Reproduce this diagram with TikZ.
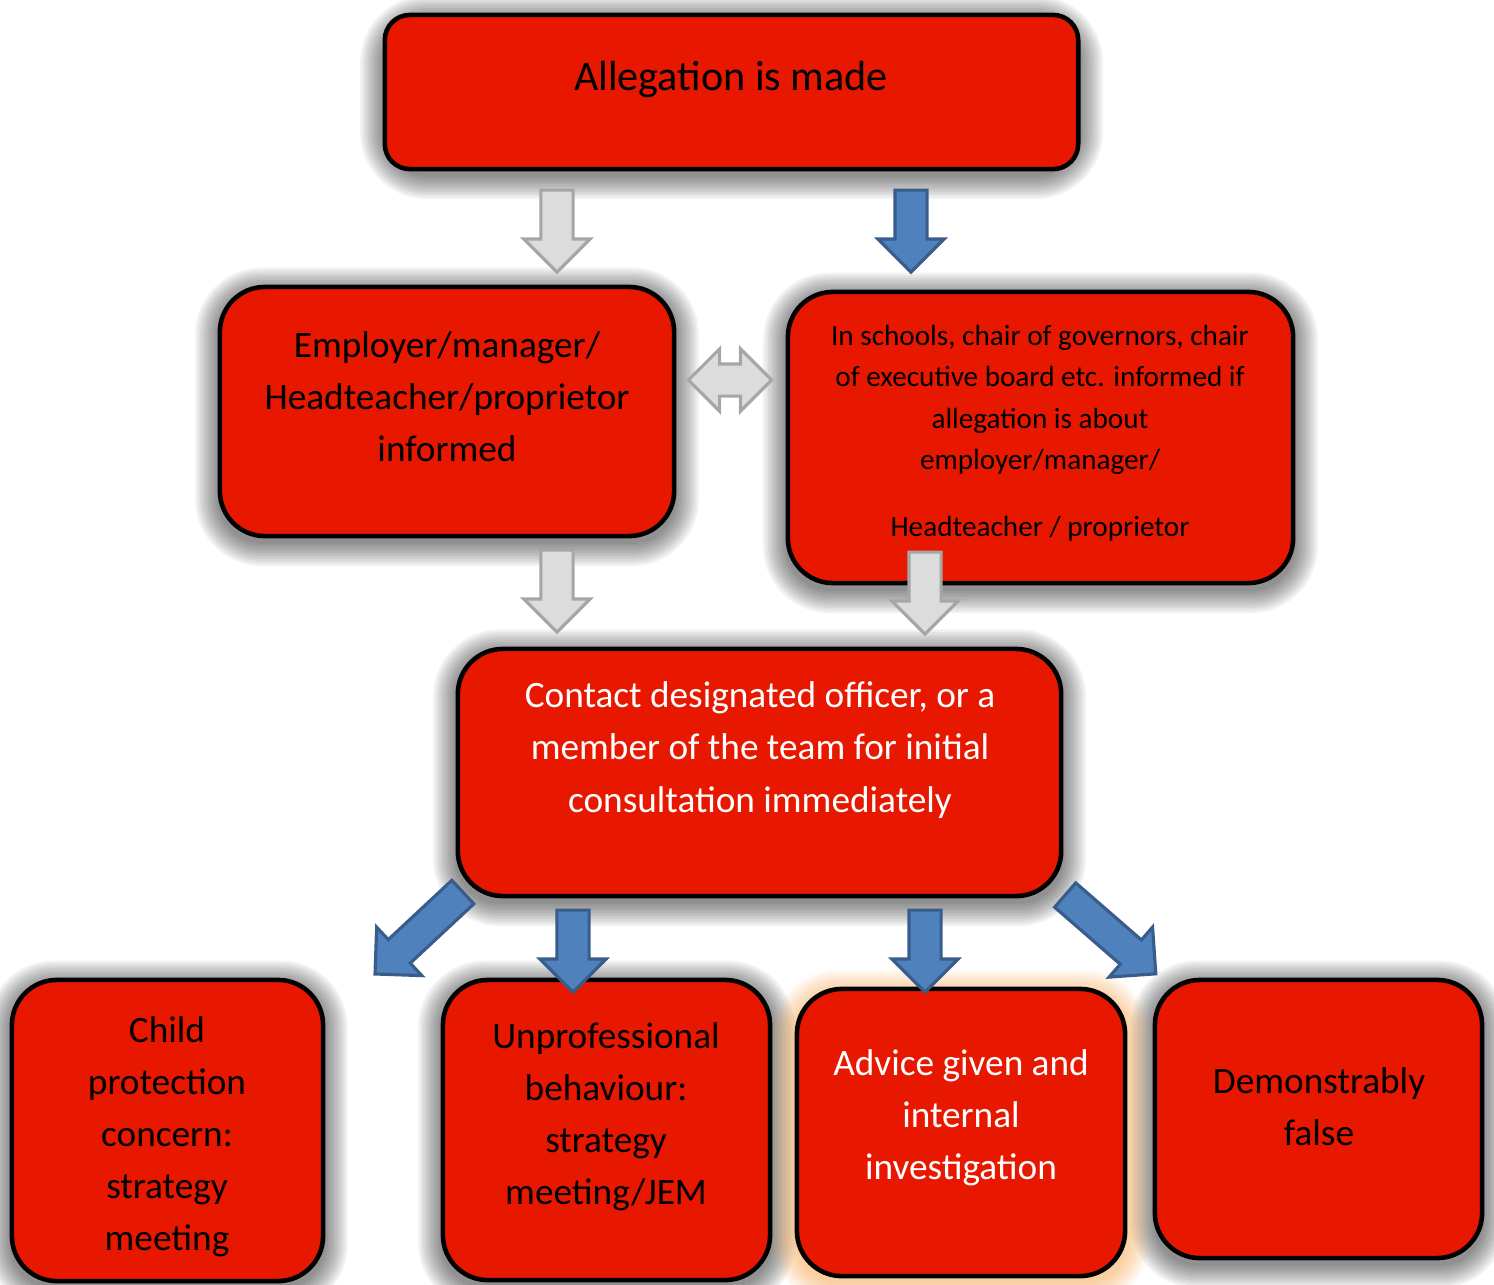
\documentclass[tikz,border=0pt]{standalone}
\usepackage{fontspec}
\setmainfont{Carlito}
\usetikzlibrary{shapes.arrows}

\definecolor{boxred}{RGB}{232,24,0}
\definecolor{arrblue}{RGB}{79,129,189}
\definecolor{arrblueline}{RGB}{56,93,138}
\definecolor{arrgray}{RGB}{220,220,220}
\definecolor{arrgrayline}{RGB}{166,166,166}
\definecolor{gloworange}{RGB}{245,150,50}

\pgfdeclarelayer{glow}
\pgfsetlayers{glow,main}

\tikzset{
  box/.style={draw=black, line width=1.3pt, fill=boxred, rounded corners=0.45cm, inner sep=0pt, outer sep=0pt},
  txt/.style={align=center, font=\fontsize{10.6}{14.8}\selectfont},
  blk/.style={single arrow, line width=0.9pt, inner xsep=0pt, inner ysep=0.145cm, single arrow head extend=0.17cm, single arrow head indent=0pt, minimum height=0.82cm, anchor=tail},
  garrow/.style={blk, draw=arrgrayline, fill=arrgray},
  barrow/.style={blk, draw=arrblueline, fill=arrblue},
}

\begin{document}
\begin{tikzpicture}[x=0.01cm, y=-0.01cm]
        \useasboundingbox (0,0) rectangle (1494,1284);

        % boxes
        \node[box, minimum width=6.93cm, minimum height=1.54cm, rounded corners=0.25cm] (alleg) at (731.5,92) {};
        \node[box, minimum width=4.54cm, minimum height=2.49cm] (empl) at (447,411.5) {};
        \node[box, minimum width=5.05cm, minimum height=2.91cm] (schools) at (1040.5,437.5) {};
        \node[box, minimum width=6.03cm, minimum height=2.47cm] (contact) at (759.5,772.5) {};
        \node[box, minimum width=3.11cm, minimum height=3.01cm] (child) at (167.5,1130.5) {};
        \node[box, minimum width=3.27cm, minimum height=3.00cm] (unprof) at (606.5,1130) {};
        \node[box, minimum width=3.28cm, minimum height=2.87cm] (advice) at (961,1132.5) {};
        \node[box, minimum width=3.27cm, minimum height=2.78cm] (demon) at (1318.5,1119) {};

        % shadows
        \begin{pgfonlayer}{glow}
          \foreach \n/\c/\o in {alleg/black/0.055, empl/black/0.055, schools/black/0.055, contact/black/0.055, child/black/0.055, unprof/black/0.055, demon/black/0.055, advice/gloworange/0.06}
            \foreach \d in {1,...,10}
              \fill[\c, opacity=\o, rounded corners={12pt+\d*0.7pt}] ([shift={(-\d*0.7pt,\d*0.7pt-1.5pt)}]\n.north west) rectangle ([shift={(\d*0.7pt,-\d*0.7pt-1.5pt)}]\n.south east);
        \end{pgfonlayer}

        % texts
        \node[txt, font=\fontsize{12}{14.8}\selectfont] (alleg-t) at (731,79) {Allegation is made};
        \node[txt] (empl-t) at (447,397) {Employer/manager/\\Headteacher/proprietor\\informed};
        \node[txt, font=\fontsize{8.3}{11.8}\selectfont] (schools-t) at (1040,433) {In schools, chair of governors, chair\\of executive board etc. informed if\\allegation is about\\employer/manager/\\[7.2pt]Headteacher / proprietor};
        \node[txt, text=white] (contact-t) at (760,750) {Contact designated officer, or a\\member of the team for initial\\consultation immediately};
        \node[txt] (child-t) at (167,1137) {Child\\protection\\concern:\\strategy\\meeting};
        \node[txt] (unprof-t) at (606,1117) {Unprofessional\\behaviour:\\strategy\\meeting/JEM};
        \node[txt, text=white] (advice-t) at (961,1118) {Advice given and\\internal\\investigation};
        \node[txt] (demon-t) at (1319,1107) {Demonstrably\\false};

        % block arrows
        \node[garrow, rotate=-90] (down1) at (557,188.5) {};
        \node[barrow, rotate=-90] (down2) at (911,188.5) {};
        \node[double arrow, draw=arrgrayline, fill=arrgray, line width=0.9pt, inner xsep=0pt, inner ysep=0.145cm, double arrow head extend=0.15cm, double arrow head indent=0pt, minimum height=0.83cm] (both) at (730,380) {};
        \node[garrow, rotate=-90] (down3) at (557,548.5) {};
        \node[garrow, rotate=-90] (down4) at (925,550.5) {};
        \node[barrow, rotate=223, minimum height=1.2cm] (left) at (464,891) {};
        \node[barrow, rotate=-90] (down5) at (573,908.5) {};
        \node[barrow, rotate=-90] (down6) at (925,908.5) {};
        \node[barrow, rotate=-41, minimum height=1.2cm] (right) at (1064,894) {};
\end{tikzpicture}
\end{document}
